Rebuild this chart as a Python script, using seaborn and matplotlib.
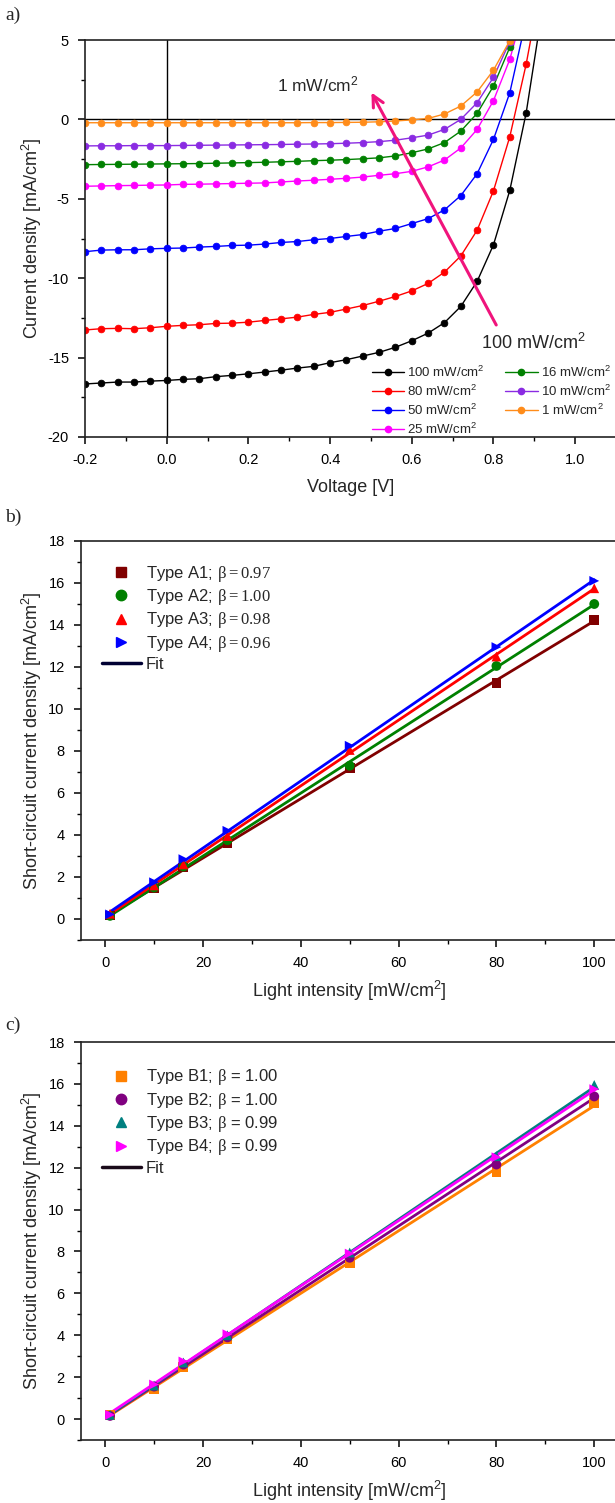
import numpy as np
import pandas as pd
import matplotlib
matplotlib.use("Agg")
import matplotlib.pyplot as plt
import seaborn as sns
from matplotlib.lines import Line2D
from matplotlib.ticker import MultipleLocator

# ============================================================
# Data
# ============================================================

# panel a: J-V curves at different light intensities
voltage = [-0.20, -0.16, -0.12, -0.08, -0.04, 0.00, 0.04, 0.08, 0.12, 0.16,
           0.20, 0.24, 0.28, 0.32, 0.36, 0.40, 0.44, 0.48, 0.52, 0.56,
           0.60, 0.64, 0.68, 0.72, 0.76, 0.80, 0.84, 0.88, 0.92]

j_100 = [-16.66, -16.60, -16.54, -16.54, -16.48, -16.44, -16.37, -16.33, -16.20, -16.12,
         -16.02, -15.91, -15.79, -15.66, -15.55, -15.32, -15.13, -14.90, -14.67, -14.35,
         -13.94, -13.46, -12.80, -11.78, -10.20, -7.90, -4.47, 0.40, 7.0]
j_80 = [-13.26, -13.18, -13.16, -13.18, -13.12, -13.03, -12.97, -12.93, -12.85, -12.83,
        -12.77, -12.66, -12.56, -12.45, -12.28, -12.15, -11.94, -11.72, -11.45, -11.15,
        -10.80, -10.33, -9.62, -8.60, -6.98, -4.50, -1.09, 3.47, 9.0]
j_50 = [-8.33, -8.23, -8.21, -8.21, -8.15, -8.12, -8.10, -8.04, -8.00, -7.94,
        -7.92, -7.85, -7.75, -7.69, -7.58, -7.50, -7.37, -7.25, -7.04, -6.87,
        -6.56, -6.25, -5.70, -4.80, -3.42, -1.26, 1.68, 6.3]
j_25 = [-4.21, -4.19, -4.17, -4.16, -4.14, -4.13, -4.09, -4.08, -4.06, -4.04,
        -4.02, -4.00, -3.94, -3.88, -3.83, -3.77, -3.71, -3.63, -3.52, -3.42,
        -3.27, -2.99, -2.56, -1.80, -0.63, 1.18, 3.78, 7.5]
j_16 = [-2.85, -2.84, -2.83, -2.82, -2.81, -2.80, -2.79, -2.78, -2.76, -2.74,
        -2.72, -2.70, -2.67, -2.64, -2.60, -2.57, -2.53, -2.48, -2.42, -2.30,
        -2.10, -1.86, -1.46, -0.74, 0.38, 2.10, 4.54, 7.8]
j_10 = [-1.67, -1.66, -1.66, -1.65, -1.65, -1.65, -1.64, -1.63, -1.62, -1.61,
        -1.60, -1.59, -1.58, -1.56, -1.55, -1.53, -1.50, -1.46, -1.40, -1.31,
        -1.16, -0.99, -0.63, 0.00, 1.05, 2.65, 4.90, 8.0]
j_1 = [-0.21, -0.21, -0.21, -0.21, -0.21, -0.21, -0.21, -0.21, -0.21, -0.21,
       -0.21, -0.21, -0.21, -0.21, -0.20, -0.20, -0.19, -0.18, -0.15, -0.10,
       -0.03, 0.06, 0.34, 0.84, 1.73, 3.10, 4.96, 8.0]

curve_labels = ["100 mW/cm$^2$", "80 mW/cm$^2$", "50 mW/cm$^2$", "25 mW/cm$^2$",
                "16 mW/cm$^2$", "10 mW/cm$^2$", "1 mW/cm$^2$"]
curve_colors = ["black", "#ff0000", "#0000ff", "#ff00ff", "#008000", "#8a2be2", "#ff8c1a"]

# panels b and c: short-circuit current density vs light intensity
intensity = [1, 10, 16, 25, 50, 80, 100]

jsc_a1 = [0.17, 1.45, 2.45, 3.60, 7.20, 11.25, 14.25]
jsc_a2 = [0.15, 1.50, 2.50, 3.75, 7.30, 12.05, 15.00]
jsc_a3 = [0.25, 1.60, 2.60, 3.95, 8.05, 12.50, 15.75]
jsc_a4 = [0.22, 1.75, 2.85, 4.20, 8.25, 12.95, 16.10]

jsc_b1 = [0.20, 1.45, 2.50, 3.80, 7.45, 11.80, 15.10]
jsc_b2 = [0.15, 1.55, 2.60, 3.90, 7.70, 12.15, 15.40]
jsc_b3 = [0.20, 1.60, 2.70, 4.00, 7.95, 12.55, 15.95]
jsc_b4 = [0.20, 1.65, 2.75, 4.05, 7.90, 12.50, 15.75]

types_a = ["A1", "A2", "A3", "A4"]
labels_a = [r"Type A1; $\mathsf{β = 0.97}$", r"Type A2; $\mathsf{β = 1.00}$",
            r"Type A3; $\mathsf{β = 0.98}$", r"Type A4; $\mathsf{β = 0.96}$"]
colors_a = ["#800000", "#008000", "#ff0000", "#0000ff"]

types_b = ["B1", "B2", "B3", "B4"]
labels_b = [r"Type B1; $\mathsf{β}$ = 1.00", r"Type B2; $\mathsf{β}$ = 1.00",
            r"Type B3; $\mathsf{β}$ = 0.99", r"Type B4; $\mathsf{β}$ = 0.99"]
colors_b = ["#ff8000", "#800080", "#008080", "#ff00ff"]

marker_list = ["s", "o", "^", ">"]

# ============================================================
# Style
# ============================================================

sns.set_theme(style="ticks")
plt.rcParams["font.family"] = ["Liberation Sans", "DejaVu Sans"]
plt.rcParams["mathtext.fontset"] = "custom"
plt.rcParams["mathtext.rm"] = "Liberation Sans"
plt.rcParams["mathtext.it"] = "Liberation Sans:italic"
plt.rcParams["mathtext.sf"] = "Liberation Serif"
plt.rcParams["axes.linewidth"] = 1.2
plt.rcParams["xtick.color"] = "black"
plt.rcParams["ytick.color"] = "black"
plt.rcParams["axes.edgecolor"] = "#222222"

TICK_FS = 10.5
LABEL_FS = 13

fig = plt.figure(figsize=(6.15, 15.03), dpi=100)
W, H = 615, 1503

ax_a = fig.add_axes([85 / W, 1 - 437 / H, (616 - 85) / W, 397 / H])
ax_b = fig.add_axes([80.7 / W, 1 - 940 / H, 538 / W, 399 / H])
ax_c = fig.add_axes([80.7 / W, 1 - 1440 / H, 538 / W, 398 / H])


def style_axes(ax):
    ax.spines["right"].set_visible(False)
    ax.tick_params(which="major", direction="out", length=5, width=1.1, labelsize=TICK_FS, pad=6.5)
    ax.tick_params(which="minor", direction="out", length=3, width=1.0)
    ax.tick_params(top=False, right=False, which="both")


# ============================================================
# Panel a
# ============================================================

all_j = [j_100, j_80, j_50, j_25, j_16, j_10, j_1]
rows = []
for lab, jv in zip(curve_labels, all_j):
    for v, j in zip(voltage, jv):
        rows.append({"Voltage": v, "J": j, "Intensity": lab})
df_a = pd.DataFrame(rows)

sns.lineplot(data=df_a, x="Voltage", y="J", hue="Intensity", hue_order=curve_labels,
             palette=curve_colors, marker="o", markersize=4.8, linewidth=1.0,
             estimator=None, sort=False, ax=ax_a, legend=False)
curve_lines = list(ax_a.lines)
for ln in curve_lines:
    ln.set_markeredgecolor(ln.get_color())
    ln.set_markeredgewidth(0.6)

ax_a.axhline(0, color="black", lw=1.0, zorder=0)
ax_a.axvline(0, color="black", lw=1.0, zorder=0)

ax_a.set_xlim(-0.2, 1.1)
ax_a.set_ylim(-20, 5)
ax_a.xaxis.set_major_locator(MultipleLocator(0.2))
ax_a.xaxis.set_minor_locator(MultipleLocator(0.1))
ax_a.yaxis.set_major_locator(MultipleLocator(5))
ax_a.yaxis.set_minor_locator(MultipleLocator(2.5))
ax_a.set_xticks([-0.2, 0.0, 0.2, 0.4, 0.6, 0.8, 1.0])
ax_a.set_xticklabels(["-0.2", "0.0", "0.2", "0.4", "0.6", "0.8", "1.0"])
ax_a.set_yticks([5, 0, -5, -10, -15, -20])
ax_a.set_yticklabels(["5", "0", "-5", "-10", "-15", "-20"])
style_axes(ax_a)
ax_a.set_xlabel("Voltage [V]", fontsize=LABEL_FS, labelpad=9)
ax_a.set_ylabel("Current density [mA/cm$^2$]", fontsize=LABEL_FS, labelpad=3)

handles_a = [Line2D([], [], color=c, marker="o", ms=4.5, mec=c, lw=1.0) for c in curve_colors]
ax_a.legend(handles_a, curve_labels, ncol=2, loc="upper left", bbox_to_anchor=(0.54, 0.183),
            frameon=False, fontsize=9.5, handlelength=2.45, handletextpad=0.25,
            columnspacing=1.55, labelspacing=0.29, borderpad=0, borderaxespad=0)

ax_a.annotate("", xy=(0.498, 1.85), xytext=(0.81, -13.1),
              arrowprops=dict(arrowstyle="->", color="#f0147c", lw=2.2, mutation_scale=20))
ax_a.text(0.37, 2.2, "1 mW/cm$^2$", fontsize=12.5, ha="center", va="center")
ax_a.text(0.897, -14.1, "100 mW/cm$^2$", fontsize=13, ha="center", va="center")

# ============================================================
# Panels b and c
# ============================================================


def jsc_panel(ax, types, series, labels, colors, fit_color, leg_y):
    rows = []
    fit_rows = []
    for t, jsc in zip(types, series):
        # straight-line fit through the measured points
        slope, icpt = np.polyfit(intensity, jsc, 1)
        for x, y in zip(intensity, jsc):
            rows.append({"Intensity": x, "Jsc": y, "Type": t})
            fit_rows.append({"Intensity": x, "Jsc": slope * x + icpt, "Type": t})
    df = pd.DataFrame(rows)
    df_fit = pd.DataFrame(fit_rows)

    sns.lineplot(data=df_fit, x="Intensity", y="Jsc", hue="Type", hue_order=types,
                 palette=colors, linewidth=2.0, estimator=None, ax=ax, legend=False)
    sns.scatterplot(data=df, x="Intensity", y="Jsc", hue="Type", hue_order=types,
                    style="Type", style_order=types, markers=dict(zip(types, marker_list)),
                    palette=colors, s=50, linewidth=0, ax=ax, legend=False, zorder=3)

    ax.set_xlim(-5, 105)
    ax.set_ylim(-1, 18)
    ax.xaxis.set_major_locator(MultipleLocator(20))
    ax.xaxis.set_minor_locator(MultipleLocator(10))
    ax.yaxis.set_major_locator(MultipleLocator(2))
    ax.yaxis.set_minor_locator(MultipleLocator(1))
    ax.set_xticks([0, 20, 40, 60, 80, 100])
    ax.set_yticks(list(range(0, 19, 2)))
    style_axes(ax)
    ax.set_xlabel("Light intensity [mW/cm$^2$]", fontsize=LABEL_FS, labelpad=6.5)
    ax.set_ylabel("Short-circuit current density [mA/cm$^2$]", fontsize=LABEL_FS, labelpad=3)

    handles = [Line2D([], [], color=c, marker=m, ls="none", ms=7.5, mec=c)
               for c, m in zip(colors, marker_list)]
    handles.append(Line2D([], [], color=fit_color, lw=2.5))
    ax.legend(handles, labels + ["Fit"], loc="upper left", bbox_to_anchor=(0.04, leg_y),
              frameon=False, fontsize=12, handlelength=2.3, handletextpad=0.3,
              labelspacing=0.2, borderpad=0, borderaxespad=0)


jsc_panel(ax_b, types_a, [jsc_a1, jsc_a2, jsc_a3, jsc_a4], labels_a, colors_a, "#000033", 0.943)
jsc_panel(ax_c, types_b, [jsc_b1, jsc_b2, jsc_b3, jsc_b4], labels_b, colors_b, "#1a0a1a", 0.936)

# panel letters
for txt, ypix in [("a)", 15), ("b)", 517), ("c)", 1025)]:
    fig.text(5 / W, 1 - ypix / H, txt, fontsize=14, family="Liberation Serif", va="center", ha="left")

fig.savefig("out.png", dpi=100)
